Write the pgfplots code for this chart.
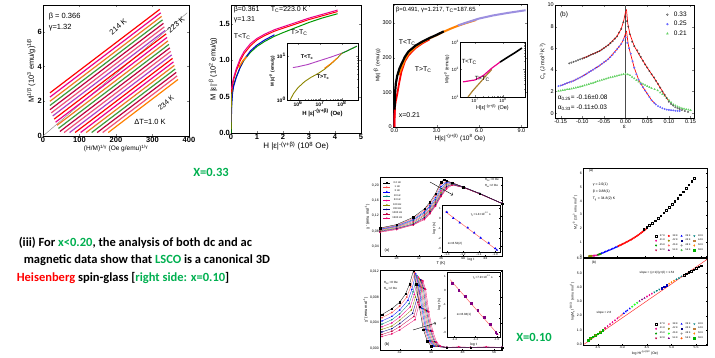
\documentclass[border=0pt]{standalone}
\usepackage{fontspec}
\setmainfont{Liberation Sans}
\newfontfamily\calibri{Carlito}
\usepackage{pgfplots}
\pgfplotsset{compat=1.18}
\definecolor{offgreen}{HTML}{00B050}
\definecolor{lav}{HTML}{9C8FE0}
\definecolor{salm}{HTML}{F0507A}
\definecolor{bmag}{HTML}{B040C0}
\definecolor{dgrn}{HTML}{3C9A3C}
\definecolor{orng}{HTML}{F07820}
\newcommand{\fs}[1]{\fontsize{#1}{#1}\selectfont}
\pgfplotsset{
  panel/.style={scale only axis, anchor=south west, tick align=inside,
    /pgf/number format/assume math mode=true,
    axis line style={line width=0.7pt},
    major tick length=2pt, minor tick length=1.2pt,
    log number format basis/.code 2 args={##1\textsuperscript{\pgfmathprintnumber{##2}}},
    axis background/.style={fill=white},
    xlabel style={inner sep=1pt}, ylabel style={inner sep=1pt},
    xticklabel style={inner sep=1pt}, yticklabel style={inner sep=1pt}},
  mk/.style={legend image code/.code={\draw[##1] plot coordinates {(0pt,0pt)};}},
  small/.style={axis line style={line width=0.35pt}, major tick length=1.2pt, every tick/.style={line width=0.3pt}},
  om/.style={only marks, mark size=0.8pt},
}
\begin{document}
\begin{tikzpicture}[every node/.style={inner sep=0.6pt}]
\fill[white] (0,0) rectangle (715pt,357pt);

%================ Panel 1 : Arrott plot =================
\begin{axis}[panel, at={(43pt,221pt)}, width=146pt, height=131pt,
  xmin=0,xmax=400,ymin=0,ymax=7.55, xtick={0,100,200,300,400}, ytick={0,2,4,6},
  tick label style={font=\fs{7.5}\bfseries},
  xlabel={(H/M)\textsuperscript{1/γ} (Oe g/emu)\textsuperscript{1/γ}}, xlabel style={font=\fs{6.5}},
  ylabel={M\textsuperscript{1/β} (10\textsuperscript{3} emu/g)\textsuperscript{1/β}}, ylabel style={font=\fs{7.5}},
  every axis plot/.append style={line width=1.2pt}]
\addplot[gray, line width=0.4pt] coordinates {(0,0) (395,7.1)};
\addplot[red] coordinates {(19,2.484) (320,7.300)};
\addplot[magenta] coordinates {(19,2.242) (322.5,7.098)};
\addplot[orng] coordinates {(19,2.000) (325,6.896)};
\addplot[dgrn] coordinates {(19,1.758) (327.5,6.694)};
\addplot[purple] coordinates {(19,1.516) (330,6.492)};
\addplot[salm] coordinates {(22.7,1.333) (332.5,6.290)};
\addplot[bmag] coordinates {(26.6,1.154) (335,6.088)};
\addplot[red] coordinates {(30.6,0.975) (337.5,5.886)};
\addplot[magenta] coordinates {(34.5,0.796) (340,5.684)};
\addplot[orng] coordinates {(38.4,0.617) (342.5,5.482)};
\addplot[dgrn] coordinates {(42.4,0.438) (345,5.280)};
\addplot[purple] coordinates {(46.3,0.259) (347.5,5.078)};
\addplot[salm] coordinates {(57.75,0.2) (350,4.876)};
\addplot[bmag] coordinates {(72.9,0.2) (352.5,4.674)};
\addplot[red] coordinates {(88,0.2) (355,4.472)};
\addplot[magenta] coordinates {(103.1,0.2) (357.5,4.270)};
\addplot[orng] coordinates {(118.25,0.2) (360,4.068)};
\addplot[dgrn] coordinates {(133.4,0.2) (362.5,3.866)};
\addplot[purple] coordinates {(148.5,0.2) (365,3.664)};
\addplot[salm] coordinates {(163.6,0.2) (367.5,3.462)};
\addplot[orange] coordinates {(178.75,0.2) (370,3.260)};
\end{axis}
\node[anchor=west,font=\fs{7.5}] at (48pt,340pt) {β = 0.366};
\node[anchor=west,font=\fs{7.5}] at (48pt,329pt) {γ=1.32};
\node[rotate=40,font=\fs{7.5}] at (118pt,330pt) {214 K};
\node[rotate=40,font=\fs{7.5}] at (176pt,332pt) {223 K};
\node[rotate=40,font=\fs{7}] at (166pt,254pt) {234 K};
\node[font=\fs{7.5}] at (150pt,235pt) {ΔT=1.0 K};

%================ Panel 2 =================
\begin{axis}[panel, at={(231pt,224pt)}, width=130pt, height=128pt,
  xmin=0,xmax=5,ymin=0,ymax=1.76, xtick={0,1,2,3,4,5}, ytick={0,0.5,1,1.5},
  yticklabel style={/pgf/number format/.cd, fixed, fixed zerofill, precision=1},
  tick label style={font=\fs{7.5}\bfseries},
  xlabel={H |ε|\textsuperscript{-(γ+β)} (10\textsuperscript{8} Oe)}, xlabel style={font=\fs{8}},
  ylabel={M |ε|\textsuperscript{-β} (10\textsuperscript{2} emu/g)}, ylabel style={font=\fs{7.5}},
  every axis plot/.append style={line width=1pt}]
\addplot[green!60!black] coordinates {(0,0)(0.01,0.25)(0.03,0.45)(0.06,0.58)(0.1,0.66)(0.2,0.77)(0.35,0.9)(0.5,1.0)(0.75,1.11)(1,1.19)(1.3,1.26)(1.67,1.33)(2,1.38)(2.5,1.45)(3,1.52)(3.5,1.58)(4.1,1.64)};
\addplot[blue!80!black] coordinates {(0.01,0.15)(0.03,0.4)(0.06,0.55)(0.1,0.64)(0.2,0.76)(0.35,0.9)(0.5,1.01)(0.75,1.13)(1,1.21)(1.3,1.28)(1.67,1.35)};
\addplot[orange, line width=1.4pt] coordinates {(0.3,0.9)(0.45,0.99)(0.6,1.05)};
\addplot[olive] coordinates {(0,0.05)(0.005,0.3)(0.02,0.5)(0.05,0.62)};
\addplot[red] coordinates {(0.02,0.56)(0.05,0.64)(0.1,0.73)(0.2,0.85)(0.35,0.99)(0.5,1.09)(0.75,1.2)(1,1.28)(1.3,1.34)(1.67,1.4)(2,1.44)(2.5,1.5)(3,1.56)(3.5,1.61)(4.1,1.67)};
\addplot[magenta] coordinates {(0.02,0.6)(0.05,0.68)(0.1,0.76)(0.2,0.88)(0.35,1.02)(0.5,1.12)(0.75,1.23)(1,1.3)(1.3,1.36)(1.67,1.42)(2,1.46)(2.5,1.52)(3,1.58)(3.5,1.63)(4.1,1.69)};
\end{axis}
\node[anchor=west,font=\fs{7}] at (233pt,347pt) {β=0.361};
\node[anchor=west,font=\fs{7}] at (270pt,347pt) {T\textsubscript{C}=223.0 K};
\node[anchor=west,font=\fs{7}] at (233pt,337pt) {γ=1.31};
\node[anchor=west,font=\fs{7}] at (233pt,320pt) {T<T\textsubscript{C}};
\node[anchor=west,font=\fs{7}] at (290pt,324pt) {T>T\textsubscript{C}};

\begin{axis}[panel, at={(287pt,257pt)}, width=71pt, height=57pt, xmode=log, ymode=log,
  xmin=3.16e5, xmax=5.4e8, ymin=1, ymax=20, xtick={1e6,1e7,1e8}, ytick={1,10},
  minor tick num=0, axis line style={line width=0.5pt},
  tick label style={font=\fs{5}\bfseries},
  xlabel={H |ε|\textsuperscript{-(γ+β)} (Oe)}, xlabel style={font=\fs{6}\bfseries},
  ylabel={M |ε|\textsuperscript{-β} (emu/g)}, ylabel style={font=\fs{4.5}\bfseries},
  every axis plot/.append style={line width=0.9pt}]
\addplot[bmag] coordinates {(5.9e5,5.5)(1e6,5.75)(2.8e6,6.46)(1e7,7.94)(3.16e7,9.55)(1e8,11.7)(4.8e8,17)};
\addplot[green!60!black] coordinates {(1e8,11.6)(2e8,13.6)(4.8e8,16.9)};
\addplot[olive] coordinates {(4.4e5,1)(6.3e5,1.41)(1e6,1.91)(2e6,2.63)(4e6,3.31)(7.9e6,3.98)(1.6e7,5.01)(3.16e7,6.61)(6.3e7,9.12)(1e8,11.7)};
\addplot[orange] coordinates {(1.6e7,5.3)(3.16e7,6.8)(6.3e7,9.2)};
\end{axis}
\node[anchor=west,font=\fs{5.5}\bfseries] at (300pt,300pt) {T<T\textsubscript{c}};
\node[anchor=west,font=\fs{5.5}\bfseries] at (316pt,280pt) {T>T\textsubscript{c}};

%================ Panel 3 =================
\begin{axis}[panel, at={(393pt,230pt)}, width=134pt, height=123pt,
  xmin=-0.1,xmax=9.4,ymin=0,ymax=355, xtick={0,3,6,9}, ytick={0,100,200,300},
  xticklabel style={/pgf/number format/.cd, fixed, fixed zerofill, precision=1},
  tick label style={font=\fs{5.5}}, axis line style={line width=0.9pt},
  xlabel={H|ε|\textsuperscript{-(γ+β)} (10\textsuperscript{8} Oe)}, xlabel style={font=\fs{6.5}},
  ylabel={M|ε|\textsuperscript{-β} (emu/g)}, ylabel style={font=\fs{5}},
  every axis plot/.append style={line width=1.8pt}]
\addplot[magenta] coordinates {(0,0)(0.01,30)(0.03,60)(0.06,85)};
\addplot[red] coordinates {(0,0)(0.02,40)(0.05,62)(0.1,75)(0.2,95)(0.35,130)(0.5,160)(0.75,190)(1,207)(1.5,228)(2,242)(2.5,253)};
\addplot[orange, line width=2pt] coordinates {(0.3,150)(0.5,170)(0.75,195)(1,212)(1.5,231)(2,245)(2.5,256)(3,265)(3.5,275)(4,284)(4.5,292)(5,299)(5.8,309)};
\addplot[black, line width=2.2pt] coordinates {(0.01,50)(0.05,100)(0.1,125)(0.2,148)(0.35,168)(0.5,182)(0.75,203)(1,218)(1.5,235)(2,247)(2.5,257)(3,266)(3.5,276)};
\addplot[lav, line width=2pt] coordinates {(4.5,293)(5,300)(6,313)(7,322)(8,329)(9.3,337)};
\end{axis}
\node[anchor=west,font=\fs{6}] at (395pt,347pt) {β=0.491, γ=1.217, T\textsubscript{C}=187.65};
\node[anchor=west,font=\fs{7}] at (398pt,314pt) {T<T\textsubscript{C}};
\node[anchor=west,font=\fs{7}] at (414pt,287pt) {T>T\textsubscript{C}};
\node[anchor=west,font=\fs{7}] at (398pt,242pt) {x=0.21};

\begin{axis}[panel, at={(460pt,260pt)}, width=65pt, height=55pt, xmode=log, ymode=log,
  xmin=2.9e6, xmax=6.2e8, ymin=10, ymax=1000, xtick={1e7,1e8}, ytick={10,100,1000},
  minor tick num=0, axis line style={line width=0.6pt},
  tick label style={font=\fs{4.5}},
  xlabel={H|ε|\textsuperscript{-(γ+β)} (Oe)}, xlabel style={font=\fs{5.5}},
  ylabel={M|ε|\textsuperscript{-β} (emu/g)}, ylabel style={font=\fs{4.5}},
  every axis plot/.append style={line width=1.2pt}]
\addplot[brown!70!olive] coordinates {(5.6e6,10)(7.9e6,15.8)(1e7,20.9)(1.6e7,35.5)(2.5e7,60.3)(4e7,100)};
\addplot[magenta] coordinates {(3.7e6,35.5)(1e7,41.7)(2e7,60.3)(4e7,112)(7.9e7,186)};
\addplot[black, line width=1.6pt] coordinates {(7.9e7,186)(1.5e8,282)(2.8e8,417)(4.8e8,603)};
\end{axis}
\node[anchor=west,font=\fs{6}] at (461pt,295pt) {T<T\textsubscript{C}};
\node[anchor=west,font=\fs{6}] at (474pt,278pt) {T>T\textsubscript{C}};

%================ Panel 4 : specific heat =================
\begin{axis}[panel, mk, at={(555pt,239pt)}, width=139pt, height=113pt,
  xmin=-0.163,xmax=0.158,ymin=-0.45,ymax=10,
  xtick={-0.15,-0.1,-0.05,0,0.05,0.1,0.15}, ytick={0,2,4,6,8,10},
  xticklabel style={/pgf/number format/.cd, fixed, fixed zerofill, precision=2},
  tick label style={font=\fs{5.5}}, axis line style={line width=0.9pt},
  xlabel={ε}, xlabel style={font=\fs{6}},
  ylabel={C\textsubscript{u} (J mol\textsuperscript{-1}K\textsuperscript{-1})}, ylabel style={font=\fs{5.5}},
  legend style={at={(0.97,0.97)}, anchor=north east, draw=none, fill=none, font=\fs{6.5}, row sep=-0.5pt, inner sep=1pt}]
\addlegendimage{black!80, mark=o, mark size=0.9pt}\addlegendentry{\;\;0.33}
\addlegendimage{blue!60, mark=*, mark size=0.9pt}\addlegendentry{\;\;0.25}
\addlegendimage{green!70!black!60, mark=triangle*, mark size=1.1pt}\addlegendentry{\;\;0.21}
\addplot[gray!60!black, line width=0.8pt] coordinates {(0,-0.45) (0,10)};
\addplot[only marks, green!70!black!60, mark=triangle*, mark size=0.9pt] coordinates {(-0.155,2.05)(-0.15,2.08)(-0.145,2.12)(-0.14,2.15)(-0.135,2.2)(-0.13,2.22)(-0.125,2.26)(-0.12,2.3)(-0.115,2.35)(-0.11,2.4)(-0.105,2.45)(-0.10,2.5)(-0.095,2.56)(-0.09,2.62)(-0.085,2.68)(-0.08,2.75)(-0.075,2.8)(-0.07,2.87)(-0.065,2.94)(-0.06,3.0)(-0.055,3.06)(-0.05,3.12)(-0.045,3.18)(-0.04,3.25)(-0.035,3.3)(-0.03,3.35)(-0.025,3.4)(-0.02,3.45)(-0.015,3.5)(-0.01,3.55)(-0.005,3.6)(0,3.62)(0.005,3.58)(0.01,3.5)(0.015,3.35)(0.02,3.2)(0.025,3.05)(0.03,2.9)(0.035,2.8)(0.04,2.7)(0.045,2.6)(0.05,2.5)(0.055,2.4)(0.06,2.3)(0.067,2.2)(0.074,2.1)(0.08,1.9)(0.085,1.75)(0.09,1.6)(0.095,1.4)(0.1,1.2)(0.105,1.0)(0.11,0.8)(0.115,0.7)(0.12,0.6)(0.125,0.52)(0.13,0.45)(0.135,0.4)(0.14,0.35)(0.145,0.31)(0.15,0.28)};
\addplot[only marks, blue!60, mark=*, mark size=0.75pt] coordinates {(-0.155,2.5)(-0.15,2.55)(-0.145,2.62)(-0.14,2.7)(-0.135,2.78)(-0.13,2.85)(-0.125,2.92)(-0.12,3.0)(-0.115,3.1)(-0.11,3.2)(-0.105,3.3)(-0.10,3.4)(-0.095,3.52)(-0.09,3.65)(-0.085,3.78)(-0.08,3.9)(-0.075,4.02)(-0.07,4.15)(-0.065,4.28)(-0.06,4.4)(-0.055,4.55)(-0.05,4.7)(-0.045,4.85)(-0.04,5.0)(-0.035,5.2)(-0.03,5.4)(-0.025,5.65)(-0.02,5.9)(-0.015,6.15)(-0.01,6.4)(-0.005,6.75)(0,7.0)(0.004,6.5)(0.008,6.0)(0.012,5.5)(0.016,4.8)(0.02,4.2)(0.025,3.6)(0.03,3.1)(0.035,2.7)(0.04,2.4)(0.045,2.1)(0.05,1.8)(0.055,1.5)(0.06,1.2)(0.066,0.95)(0.07,0.8)(0.075,0.65)(0.08,0.55)(0.085,0.45)(0.09,0.38)(0.095,0.33)(0.1,0.3)(0.105,0.27)(0.11,0.25)(0.115,0.22)(0.12,0.21)(0.125,0.2)};
\addplot[only marks, black!80, mark=o, mark size=0.8pt, mark options={line width=0.3pt}] coordinates {(-0.13,4.6)(-0.125,4.68)(-0.12,4.75)(-0.115,4.82)(-0.11,4.9)(-0.105,4.98)(-0.10,5.05)(-0.095,5.12)(-0.09,5.2)(-0.085,5.3)(-0.08,5.4)(-0.075,5.48)(-0.07,5.55)(-0.065,5.65)(-0.06,5.75)(-0.055,5.88)(-0.05,6.0)(-0.045,6.15)(-0.04,6.3)(-0.035,6.48)(-0.03,6.65)(-0.025,6.88)(-0.02,7.1)(-0.015,7.45)(-0.01,7.8)(-0.005,8.4)(0,8.9)(0.003,8.5)(0.006,8.0)(0.01,7.3)(0.015,6.6)(0.02,6.2)(0.027,5.8)(0.031,5.5)(0.035,5.2)(0.04,4.85)(0.045,4.5)(0.05,4.2)(0.055,3.9)(0.06,3.6)(0.066,3.3)(0.07,3.0)(0.075,2.7)(0.08,2.35)(0.085,2.0)(0.09,1.7)(0.095,1.4)(0.1,1.05)(0.105,0.85)(0.11,0.7)(0.115,0.55)(0.12,0.45)(0.125,0.38)(0.13,0.3)(0.137,0.2)(0.144,0.12)};
\addplot[red, line width=0.7pt] coordinates {(-0.1,5.05)(-0.08,5.4)(-0.06,5.75)(-0.04,6.3)(-0.02,7.1)(-0.01,7.8)(-0.004,8.6)(0,9.4)};
\addplot[red, line width=0.7pt] coordinates {(0.002,9.6)(0.005,8.3)(0.01,7.3)(0.02,6.2)(0.03,5.5)(0.05,4.2)(0.07,3.0)(0.09,1.7)(0.1,1.1)};
\addplot[red, line width=0.7pt] coordinates {(-0.15,2.55)(-0.12,3.0)(-0.1,3.4)(-0.08,3.9)(-0.06,4.4)(-0.04,5.0)(-0.02,5.9)(-0.01,6.4)(-0.004,6.9)(0,7.4)};
\addplot[red, line width=0.7pt] coordinates {(0.002,7.6)(0.006,6.4)(0.01,5.7)(0.02,4.2)(0.03,3.1)(0.04,2.4)(0.05,1.8)(0.06,1.2)(0.07,0.8)};
\end{axis}
\node[font=\fs{6.5}] at (564pt,342pt) {(b)};
\node[anchor=west,font=\fs{6.5}] at (557pt,259pt) {α\textsubscript{0.25}= -0.16±0.08};
\node[anchor=west,font=\fs{6.5}] at (557pt,249pt) {α\textsubscript{0.33}= -0.11±0.03};

%================ Slide text =================
\node[font=\calibri\bfseries\fs{12.5}, text=offgreen] at (211pt,185pt) {X=0.33};
\node[anchor=west, font=\calibri\bfseries\fs{12.5}] at (18pt,114pt) {(iii) For \textcolor{offgreen}{x<0.20}, the analysis of both dc and ac};
\node[anchor=west, font=\calibri\bfseries\fs{12.5}] at (23pt,97pt) {magnetic data show that \textcolor{offgreen}{LSCO} is a canonical 3D};
\node[anchor=west, font=\calibri\bfseries\fs{12.5}] at (16pt,79pt) {\textcolor{red}{Heisenberg} spin-glass [\textcolor{offgreen}{right side: x=0.10}]};
\node[font=\calibri\bfseries\fs{12.5}, text=offgreen] at (534pt,20pt) {X=0.10};

%================ Bottom middle (a) : chi' =================
\begin{axis}[panel, small, at={(380pt,101pt)}, width=122pt, height=79pt,
  xmin=25,xmax=47,ymin=0.015,ymax=0.221, xtick={28,32,36,40,44}, ytick={0.04,0.08,0.12,0.16,0.20},
  yticklabel style={/pgf/number format/.cd, fixed, fixed zerofill, precision=2, use comma},
  tick label style={font=\fs{3.5}},
  xlabel={T (K)}, xlabel style={font=\fs{4}},
  ylabel={χ' (emu mol\textsuperscript{-1})}, ylabel style={font=\fs{4}},
  legend image code/.code={\draw[mark repeat=2,mark phase=2,#1] plot coordinates {(0pt,0pt) (3.5pt,0pt) (7pt,0pt)};},
  legend style={at={(0.02,0.98)}, anchor=north west, draw=none, fill=none, font=\fs{2.6}, row sep=-2.9pt, inner sep=0.5pt},
  every axis plot/.append style={line width=0.3pt, mark size=0.7pt}]
\addlegendimage{black, mark=square*}\addlegendentry{0.2 Hz}
\addlegendimage{red!70, mark=*}\addlegendentry{1 Hz}
\addlegendimage{blue, mark=triangle*}\addlegendentry{3 Hz}
\addlegendimage{teal, mark=triangle*, mark options={rotate=180}}\addlegendentry{10 Hz}
\addlegendimage{magenta, mark=diamond*}\addlegendentry{33 Hz}
\addlegendimage{olive, mark=triangle*, mark options={rotate=90}}\addlegendentry{100 Hz}
\addlegendimage{blue!50!black, mark=triangle*, mark options={rotate=270}}\addlegendentry{333 Hz}
\addlegendimage{purple, mark=pentagon*}\addlegendentry{1000 Hz}
\addlegendimage{magenta!70!red, mark=*}\addlegendentry{1500 Hz}
\addplot[magenta!70!red, mark=*] coordinates {(25,0.077)(28,0.084)(31,0.096)(33,0.110)(34,0.125)(35,0.145)(36,0.170)(37,0.190)(38,0.200)(40,0.194)(43,0.177)(47,0.152)};
\addplot[purple, mark=pentagon*] coordinates {(25,0.078)(28,0.086)(31,0.097)(33,0.113)(34,0.128)(35,0.147)(36,0.172)(37,0.194)(38,0.201)(40,0.194)(43,0.177)(47,0.152)};
\addplot[blue!50!black, mark=triangle*, mark options={rotate=270}] coordinates {(25,0.080)(28,0.087)(31,0.099)(33,0.116)(34,0.131)(35,0.150)(36,0.176)(37,0.197)(38,0.202)(40,0.194)(43,0.177)(47,0.152)};
\addplot[olive, mark=triangle*, mark options={rotate=90}] coordinates {(25,0.081)(28,0.089)(31,0.102)(33,0.120)(34,0.134)(35,0.154)(36,0.180)(37,0.201)(38,0.203)(40,0.194)(43,0.177)(47,0.152)};
\addplot[magenta, mark=diamond*] coordinates {(25,0.083)(28,0.091)(31,0.105)(33,0.123)(34,0.138)(35,0.158)(36,0.185)(37,0.204)(38,0.204)(40,0.194)(43,0.177)(47,0.152)};
\addplot[teal, mark=triangle*, mark options={rotate=180}] coordinates {(25,0.084)(28,0.092)(31,0.108)(33,0.127)(34,0.142)(35,0.162)(36,0.190)(37,0.206)(38,0.204)(40,0.195)(43,0.178)(47,0.152)};
\addplot[blue, mark=triangle*] coordinates {(25,0.085)(28,0.094)(31,0.110)(33,0.130)(34,0.146)(35,0.167)(36,0.196)(37,0.208)(38,0.205)(40,0.195)(43,0.178)(47,0.152)};
\addplot[red!70, mark=*] coordinates {(25,0.087)(28,0.095)(31,0.113)(33,0.134)(34,0.151)(35,0.173)(36,0.203)(37,0.210)(38,0.206)(40,0.195)(43,0.178)(47,0.152)};
\addplot[black, mark=square*] coordinates {(25,0.088)(28,0.097)(31,0.116)(33,0.138)(34,0.155)(35,0.178)(36,0.208)(36.6,0.214)(37,0.211)(38,0.206)(40,0.195)(43,0.178)(47,0.152)};
\end{axis}
\node[anchor=west,font=\fs{3}] at (484pt,177pt) {H\textsubscript{DC}=0 Oe};
\node[anchor=west,font=\fs{3}] at (484pt,171pt) {H\textsubscript{ac}=2 Oe};
\node[font=\fs{4}] at (387pt,107pt) {(a)};
\draw[->, line width=0.4pt] (430pt,175pt) -- (453pt,162pt);

\begin{axis}[panel, small, at={(442pt,105pt)}, width=58pt, height=47pt,
  xmin=-1.33,xmax=-0.97,ymin=-3.35,ymax=1.3, xtick={-1.3,-1.2,-1.1,-1.0}, ytick={-3,-2,-1,0,1},
  xticklabel style={/pgf/number format/.cd, fixed, fixed zerofill, precision=1},
  tick label style={font=\fs{3}},
  xlabel={log t}, xlabel style={font=\fs{3.5}},
  ylabel={log τ (s)}, ylabel style={font=\fs{3.5}}]
\addplot[red!60, line width=0.5pt] coordinates {(-1.31,0.65) (-0.985,-3.2)};
\addplot[only marks, blue, mark=triangle*, mark size=1pt] coordinates {(-1.30,0.6)(-1.26,0.0)(-1.22,-0.45)(-1.17,-0.95)(-1.13,-1.45)(-1.09,-1.95)(-1.04,-2.45)(-1.0,-3.0)(-0.99,-3.15)};
\end{axis}
\node[anchor=west,font=\fs{3}] at (470pt,143pt) {τ\textsubscript{0}=1.4×10\textsuperscript{-12} s};
\node[anchor=west,font=\fs{3}] at (447pt,113pt) {zν=8.52(2)};

%================ Bottom middle (b) : chi'' =================
\begin{axis}[panel, small, at={(380pt,7pt)}, width=122pt, height=80pt,
  xmin=27,xmax=58,ymin=-0.0002,ymax=0.0122, xtick={32,40,48,56}, ytick={0,0.004,0.008,0.012},
  yticklabel style={/pgf/number format/.cd, fixed, fixed zerofill, precision=3, use comma},
  scaled y ticks=false,
  tick label style={font=\fs{3.5}},
  ylabel={χ'' (emu mol\textsuperscript{-1})}, ylabel style={font=\fs{4}},
  every axis plot/.append style={line width=0.3pt, mark size=0.7pt}]
\addplot[magenta!70!red, mark=*] coordinates {(27.5,0.0019)(30,0.0023)(32,0.0029)(35.9,0.0045)(36.9,0.0068)(37.9,0.0105)(38.6,0.0092)(39.4,0.0057)(40.4,0.0027)(41.4,0.0010)(42.4,0.0004)(44,0.0002)(47,0.0003)(50,0.0002)(54,0.0003)(58,0.0002)};
\addplot[purple, mark=pentagon*] coordinates {(27.5,0.0022)(30,0.0027)(32,0.0034)(35.6,0.0050)(36.6,0.0072)(37.6,0.0106)(38.3,0.0093)(39.1,0.0058)(40.1,0.0027)(41.1,0.0010)(42.1,0.0004)(44,0.0002)(50,0.0002)(58,0.0002)};
\addplot[blue!50!black, mark=triangle*, mark options={rotate=270}] coordinates {(27.5,0.0026)(30,0.0031)(32,0.0039)(35.3,0.0055)(36.3,0.0076)(37.3,0.0107)(38.0,0.0094)(38.8,0.0059)(39.8,0.0028)(40.8,0.0011)(41.8,0.0004)(44,0.0002)(50,0.0002)(58,0.0002)};
\addplot[olive, mark=triangle*, mark options={rotate=90}] coordinates {(27.5,0.0030)(30,0.0035)(32,0.0044)(35.0,0.0060)(36.0,0.0080)(37.0,0.0109)(37.7,0.0095)(38.5,0.0060)(39.5,0.0028)(40.5,0.0011)(41.5,0.0004)(44,0.0002)(50,0.0002)(58,0.0002)};
\addplot[magenta, mark=diamond*] coordinates {(27.5,0.0034)(30,0.0040)(32,0.0049)(34.7,0.0065)(35.7,0.0084)(36.7,0.0111)(37.4,0.0096)(38.2,0.0061)(39.2,0.0029)(40.2,0.0011)(41.2,0.0004)(44,0.0002)(50,0.0002)(58,0.0002)};
\addplot[teal, mark=triangle*, mark options={rotate=180}] coordinates {(27.5,0.0038)(30,0.0045)(32,0.0054)(34.4,0.0070)(35.4,0.0088)(36.4,0.0113)(37.1,0.0097)(37.9,0.0062)(38.9,0.0029)(39.9,0.0012)(40.9,0.0004)(44,0.0002)(50,0.0002)(58,0.0002)};
\addplot[blue, mark=triangle*] coordinates {(27.5,0.0043)(30,0.0050)(32,0.0060)(34.1,0.0075)(35.1,0.0092)(36.1,0.0116)(36.8,0.0098)(37.6,0.0063)(38.6,0.0030)(39.6,0.0012)(40.6,0.0004)(44,0.0002)(50,0.0002)(58,0.0002)};
\addplot[red!70, mark=*] coordinates {(27.5,0.0048)(30,0.0056)(32,0.0066)(33.8,0.0080)(34.8,0.0096)(35.8,0.0118)(36.5,0.0099)(37.3,0.0064)(38.3,0.0030)(39.3,0.0012)(40.3,0.0004)(44,0.0002)(50,0.0002)(58,0.0002)};
\addplot[black, mark=square*] coordinates {(27.5,0.0053)(30,0.0062)(32,0.0072)(33.5,0.0085)(34.5,0.0100)(35.5,0.0121)(36.2,0.0100)(37,0.0065)(38,0.0030)(39,0.0012)(40,0.0004)(44,0.0002)(50,0.0002)(58,0.0002)};
\end{axis}
\node[anchor=west,font=\fs{3}] at (383pt,74pt) {H\textsubscript{DC}=0 Oe};
\node[anchor=west,font=\fs{3}] at (383pt,68pt) {H\textsubscript{ac}=2 Oe};
\node[font=\fs{4}] at (387pt,13pt) {(b)};
\draw[->, line width=0.4pt] (413pt,27pt) -- (436pt,34pt);

\begin{axis}[panel, small, at={(447pt,20pt)}, width=53pt, height=65pt,
  xmin=-1.47,xmax=-0.97,ymin=-3.35,ymax=1.3, xtick={-1.4,-1.2,-1.0}, ytick={-3,-2,-1,0,1},
  xticklabel style={/pgf/number format/.cd, fixed, fixed zerofill, precision=1},
  tick label style={font=\fs{3}},
  xlabel={log t}, xlabel style={font=\fs{3.5}},
  ylabel={log τ (s)}, ylabel style={font=\fs{3.5}}]
\addplot[red!60, line width=0.5pt] coordinates {(-1.44,0.75) (-0.985,-3.2)};
\addplot[only marks, violet, mark=square*, mark size=0.8pt] coordinates {(-1.42,0.5)(-1.36,0.0)(-1.30,-0.45)(-1.24,-0.95)(-1.18,-1.45)(-1.12,-1.95)(-1.06,-2.45)(-1.01,-3.0)(-1.0,-3.1)};
\end{axis}
\node[anchor=west,font=\fs{3}] at (472pt,80pt) {τ\textsubscript{0}=7.9×10\textsuperscript{-13} s};
\node[anchor=west,font=\fs{3}] at (456pt,42pt) {zν=8.04(1)};

%================ Bottom right (a) =================
\begin{axis}[panel, small, mk, at={(583pt,100pt)}, width=124pt, height=89pt,
  xmin=-0.43,xmax=8.4,ymin=-0.07,ymax=6.4, xtick={0,2,4,6,8}, ytick={0,1,2,3,4,5,6},
  tick label style={font=\fs{3.5}},
  xlabel={Ht\textsuperscript{-(γ+β)} (10\textsuperscript{5} Oe)}, xlabel style={font=\fs{3.5}},
  ylabel={M\textsubscript{s}t\textsuperscript{-β} (10\textsuperscript{3} emu mol\textsuperscript{-1})}, ylabel style={font=\fs{3.5}},
  legend columns=4,
  legend style={at={(0.99,0.03)}, anchor=south east, draw=none, fill=none, font=\fs{2.5}, row sep=-2.5pt, column sep=1pt, inner sep=0.3pt}]
\addlegendimage{black, mark=square, mark size=0.8pt}\addlegendentry{37 K}
\addlegendimage{red, mark=*, mark size=0.8pt}\addlegendentry{38 K}
\addlegendimage{blue, mark=triangle*, mark size=0.8pt}\addlegendentry{39 K}
\addlegendimage{teal, mark=triangle*, mark size=0.8pt, mark options={rotate=180}}\addlegendentry{40 K}
\addlegendimage{magenta, mark=diamond*, mark size=0.8pt}\addlegendentry{41 K}
\addlegendimage{olive, mark=*, mark size=0.8pt}\addlegendentry{42 K}
\addlegendimage{blue!50!black, mark=square*, mark size=0.8pt}\addlegendentry{43 K}
\addlegendimage{brown, mark=square*, mark size=0.8pt}\addlegendentry{44 K}
\addlegendimage{green!60!black, mark=*, mark size=0.8pt}\addlegendentry{45 K}
\addlegendimage{red!60, mark=*, mark size=0.8pt}\addlegendentry{46 K}
\addlegendimage{gray, mark=o, mark size=0.8pt}\addlegendentry{48 K}
\addlegendimage{orange, mark=diamond*, mark size=0.8pt}\addlegendentry{50 K}
\addlegendimage{purple, mark=triangle*, mark size=0.8pt, mark options={rotate=180}}\addlegendentry{52 K}
\addlegendimage{violet, mark=triangle*, mark size=0.8pt}\addlegendentry{54 K}
\addlegendimage{green!50!gray, mark=*, mark size=0.8pt}\addlegendentry{56 K}
\addlegendimage{green!70!black, mark=square*, mark size=0.8pt}\addlegendentry{58 K}
\addplot[om, olive, mark=*] coordinates {(0,0)(0.05,0.005)(0.1,0.008)(0.15,0.01)(0.2,0.012)};
\addplot[om, magenta, mark=diamond*] coordinates {(0.3,0.02)(0.4,0.03)(0.5,0.05)(0.6,0.08)(0.7,0.11)(0.8,0.15)};
\addplot[om, green!60!black, mark=*] coordinates {(0.65,0.1)(0.75,0.13)(0.85,0.17)};
\addplot[om, blue, mark=triangle*] coordinates {(0.9,0.2)(1.0,0.24)(1.1,0.28)(1.2,0.33)(1.3,0.37)(1.4,0.41)(1.5,0.45)(1.6,0.49)(1.7,0.54)(1.8,0.58)(1.9,0.63)(2.0,0.68)};
\addplot[om, red, mark=*] coordinates {(2.1,0.73)(2.2,0.78)(2.3,0.83)(2.4,0.88)(2.5,0.93)(2.6,0.98)(2.7,1.03)(2.8,1.09)(2.9,1.14)(3.0,1.2)(3.1,1.26)(3.2,1.32)(3.3,1.39)(3.4,1.45)(3.5,1.52)(3.6,1.6)(3.7,1.68)(3.8,1.76)(3.9,1.84)(4.0,1.92)(4.1,2.0)};
\addplot[om, black, mark=square, mark options={line width=0.3pt}] coordinates {(3.9,1.95)(4.1,2.1)(4.3,2.25)(4.5,2.4)(4.7,2.58)(4.9,2.76)(5.1,2.95)(5.3,3.15)(5.5,3.35)(5.7,3.56)(5.9,3.78)(6.1,4.0)(6.3,4.22)(6.5,4.45)(6.7,4.68)(6.9,4.93)(7.1,5.18)(7.3,5.43)(7.5,5.68)};
\end{axis}
\node[font=\fs{3.5}] at (591pt,186pt) {(a)};
\node[anchor=west,font=\fs{3.5}] at (592pt,172pt) {γ = 2.0(1)};
\node[anchor=west,font=\fs{3.5}] at (592pt,165pt) {β = 0.88(1)};
\node[anchor=west,font=\fs{3.5}] at (592pt,158pt) {T\textsubscript{g} = 34.8(2) K};

%================ Bottom right (b) =================
\begin{axis}[panel, small, mk, at={(583pt,12pt)}, width=124pt, height=87pt,
  xmin=3.2,xmax=5.72,ymin=-0.05,ymax=6.05, xtick={3.5,4,4.5,5,5.5}, ytick={0,1,2,3,4,5,6},
  xticklabel style={/pgf/number format/.cd, fixed, fixed zerofill, precision=1},
  yticklabel style={/pgf/number format/.cd, fixed, fixed zerofill, precision=1},
  tick label style={font=\fs{3.5}},
  xlabel={log Ht\textsuperscript{-(γ+β)/2} (Oe)}, xlabel style={font=\fs{3.5}},
  ylabel={log M\textsubscript{s}t\textsuperscript{-β(1/2)} (emu mol\textsuperscript{-1})}, ylabel style={font=\fs{3.5}},
  legend columns=4,
  legend style={at={(0.99,0.03)}, anchor=south east, draw=none, fill=none, font=\fs{2.5}, row sep=-2.5pt, column sep=1pt, inner sep=0.3pt}]
\addlegendimage{black, mark=square, mark size=0.8pt}\addlegendentry{37 K}
\addlegendimage{red!60, mark=o, mark size=0.8pt}\addlegendentry{38 K}
\addlegendimage{blue, mark=triangle, mark size=0.8pt}\addlegendentry{39 K}
\addlegendimage{teal, mark=triangle, mark size=0.8pt, mark options={rotate=180}}\addlegendentry{40 K}
\addlegendimage{magenta, mark=diamond*, mark size=0.8pt}\addlegendentry{41 K}
\addlegendimage{olive, mark=*, mark size=0.8pt}\addlegendentry{42 K}
\addlegendimage{blue!50!black, mark=square*, mark size=0.8pt}\addlegendentry{43 K}
\addlegendimage{brown, mark=square*, mark size=0.8pt}\addlegendentry{44 K}
\addlegendimage{green!60!black, mark=*, mark size=0.8pt}\addlegendentry{45 K}
\addlegendimage{green, mark=o, mark size=0.8pt}\addlegendentry{46 K}
\addlegendimage{gray, mark=o, mark size=0.8pt}\addlegendentry{48 K}
\addlegendimage{orange, mark=diamond*, mark size=0.8pt}\addlegendentry{50 K}
\addlegendimage{purple, mark=triangle*, mark size=0.8pt, mark options={rotate=180}}\addlegendentry{52 K}
\addlegendimage{violet, mark=triangle*, mark size=0.8pt}\addlegendentry{54 K}
\addlegendimage{orange!70!red, mark=*, mark size=0.8pt}\addlegendentry{56 K}
\addlegendimage{green!70!black, mark=square*, mark size=0.8pt}\addlegendentry{58 K}
\addplot[red!80, mark=none, line width=0.5pt] coordinates {(3.22,0) (5.72,5.95)};
\addplot[om, green!70!black, mark=square*] coordinates {(3.3,0.3)(3.35,0.42)(3.4,0.52)(3.45,0.62)(3.5,0.74)(3.55,0.86)(3.6,0.99)};
\addplot[om, olive, mark=*] coordinates {(3.35,0.4)(3.45,0.64)(3.55,0.88)(3.65,1.13)};
\addplot[om, magenta, mark=diamond*] coordinates {(3.65,1.13)(3.7,1.27)(3.75,1.41)(3.8,1.55)(3.85,1.68)(3.9,1.82)};
\addplot[om, red!60, mark=o] coordinates {(3.93,1.9)(3.97,2.0)(4.0,2.1)};
\addplot[om, blue, mark=triangle*] coordinates {(4.03,2.18)(4.07,2.29)(4.1,2.37)(4.15,2.5)};
\addplot[om, green, mark=o] coordinates {(4.2,2.64)(4.25,2.78)(4.3,2.91)};
\addplot[om, violet, mark=triangle*] coordinates {(4.35,3.03)(4.4,3.14)(4.45,3.24)};
\addplot[om, magenta, mark=diamond*] coordinates {(4.5,3.35)(4.55,3.45)(4.6,3.55)};
\addplot[om, teal, mark=triangle*, mark options={rotate=180}] coordinates {(4.65,3.65)(4.7,3.75)(4.75,3.85)};
\addplot[om, blue!70!black, mark=square*] coordinates {(4.8,3.95)(4.85,4.05)(4.9,4.15)};
\addplot[om, orange, mark=diamond*] coordinates {(4.95,4.25)(5.0,4.35)(5.05,4.45)};
\addplot[om, teal, mark=triangle*] coordinates {(5.1,4.55)(5.15,4.65)(5.2,4.75)};
\addplot[om, black, mark=square, mark options={line width=0.3pt}] coordinates {(5.25,4.85)(5.3,4.95)(5.35,5.05)(5.4,5.14)(5.45,5.24)(5.5,5.33)(5.55,5.43)(5.6,5.52)};
\end{axis}
\node[font=\fs{3.5}] at (594pt,94pt) {(b)};
\node[font=\fs{3}] at (657pt,84pt) {slope = (γ+1)/(γ+β) = 1.53};
\node[font=\fs{3}] at (604pt,44pt) {slope = 2.6};

\pgfresetboundingbox
\path[use as bounding box] (0,0) rectangle (715pt,357pt);
\end{tikzpicture}
\end{document}
